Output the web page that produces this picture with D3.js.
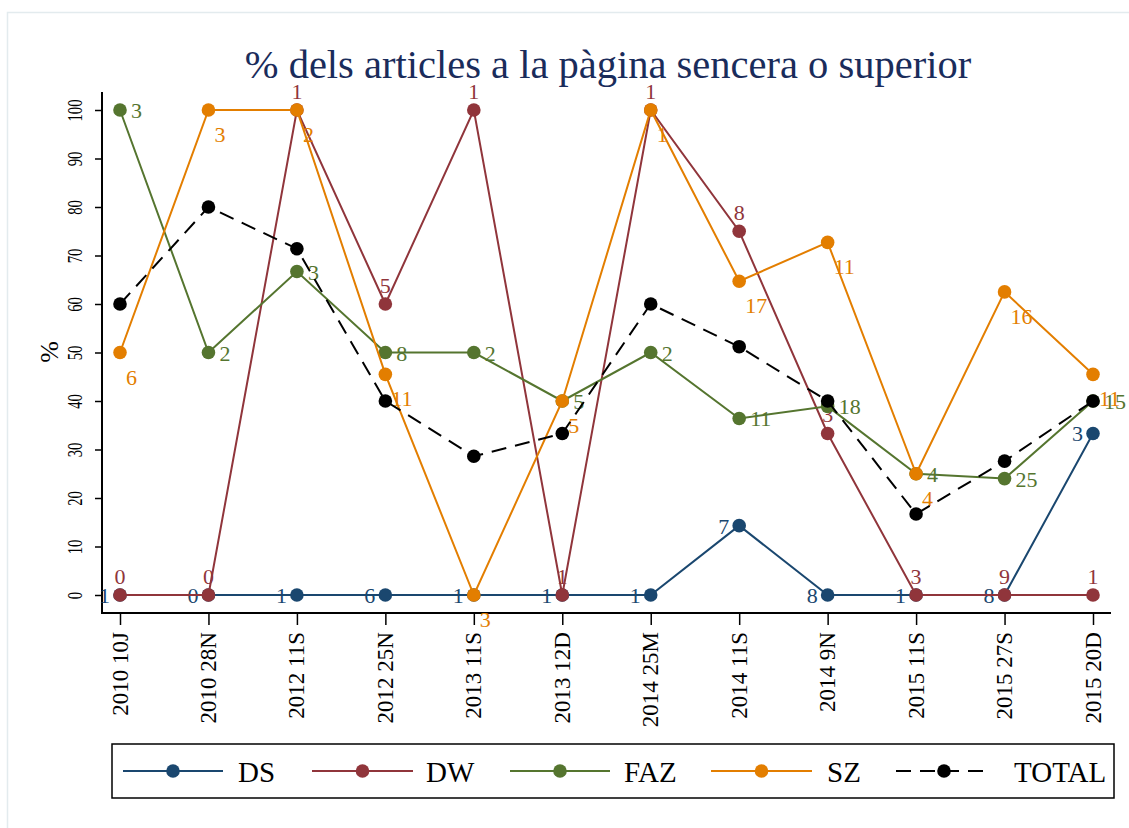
<!DOCTYPE html>
<html>
<head>
<meta charset="utf-8">
<script src="https://cdn.jsdelivr.net/npm/d3@7"></script>
<style>
    body { margin: 0; background: #fff; }
    svg { display: block; font-family: "Liberation Serif", "Times New Roman", serif; }
</style>
</head>
<body>
<div id="chart"></div>
<script>
// dates of the sampled days
var dates = ["2010 10J", "2010 28N", "2012 11S", "2012 25N", "2013 11S", "2013 12D",
    "2014 25M", "2014 11S", "2014 9N", "2015 11S", "2015 27S", "2015 20D"];

// % of articles per paper, plus the number of articles (marker labels)
var dsValues = [0, 0, 0, 0, 0, 0, 0, 14.3, 0, 0, 0, 33.3];
var dsCounts = ["1", "0", "1", "6", "1", "1", "1", "7", "8", "1", "8", "3"];

var dwValues = [0, 0, 100, 60, 100, 0, 100, 75, 33.3, 0, 0, 0];
var dwCounts = ["0", "0", "1", "5", "1", "1", "1", "8", "3", "3", "9", "1"];

var fazValues = [100, 50, 66.7, 50, 50, 40, 50, 36.4, 38.9, 25, 24, 40];
var fazCounts = ["3", "2", "3", "8", "2", "5", "2", "11", "18", "4", "25", "15"];

var szValues = [50, 100, 100, 45.5, 0, 40, 100, 64.7, 72.7, 25, 62.5, 45.5];
var szCounts = ["6", "3", "2", "11", "3", "5", "1", "17", "11", "4", "16", "11"];

var totalValues = [60, 80, 71.4, 40, 28.6, 33.3, 60, 51.2, 40, 16.7, 27.6, 40];

var yTicks = [0, 10, 20, 30, 40, 50, 60, 70, 80, 90, 100];

var series = [
    {name: "DS", values: dsValues, counts: dsCounts, color: "#1a476f", pos: "left"},
    {name: "DW", values: dwValues, counts: dwCounts, color: "#90353b", pos: "top"},
    {name: "FAZ", values: fazValues, counts: fazCounts, color: "#55752f", pos: "right"},
    {name: "SZ", values: szValues, counts: szCounts, color: "#e37e00", pos: "below"},
    {name: "TOTAL", values: totalValues, counts: null, color: "#000000", pos: null, dash: "15,9"}
];

var W = 1129, H = 828;
var plot = {left: 102, right: 1111, top: 92, bottom: 613};

var svg = d3.select("#chart").append("svg")
    .attr("width", W)
    .attr("height", H);

// faint outer frame of the graph region
svg.append("path")
    .attr("d", "M7.5," + H + "V12.5H" + W)
    .attr("fill", "none")
    .attr("stroke", "#e3ebee")
    .attr("stroke-width", 1.5);

var x = d3.scalePoint()
    .domain(dates)
    .range([120, 1093]);

var y = d3.scaleLinear()
    .domain([0, 100])
    .range([595, 110]);

// title
svg.append("text")
    .attr("x", 608)
    .attr("y", 78)
    .attr("text-anchor", "middle")
    .attr("font-size", 40.5)
    .attr("fill", "#1a2c5b")
    .text("% dels articles a la pàgina sencera o superior");

// y axis
var yAxis = d3.axisLeft(y)
    .tickValues(yTicks)
    .tickSize(7)
    .tickSizeOuter(0);

var gy = svg.append("g")
    .attr("transform", "translate(" + plot.left + ",0)")
    .call(yAxis);
gy.select(".domain").remove();
gy.selectAll(".tick line").attr("stroke", "#000").attr("stroke-width", 1.5);
gy.selectAll(".tick text")
    .attr("x", null).attr("dy", null)
    .attr("text-anchor", "middle")
    .attr("font-family", "Liberation Serif")
    .attr("font-size", 21)
    .attr("fill", "#000")
    .attr("transform", "translate(-20,0) rotate(-90) scale(0.7,1)");

// x axis
var xAxis = d3.axisBottom(x)
    .tickSize(12)
    .tickSizeOuter(0);

var gx = svg.append("g")
    .attr("transform", "translate(0," + plot.bottom + ")")
    .call(xAxis);
gx.select(".domain").remove();
gx.selectAll(".tick line").attr("stroke", "#000").attr("stroke-width", 1.5);
gx.selectAll(".tick text")
    .attr("y", null).attr("dy", null)
    .attr("text-anchor", "end")
    .attr("font-family", "Liberation Serif")
    .attr("font-size", 23)
    .attr("fill", "#000")
    .attr("transform", "translate(7,19) rotate(-90)");

// axis lines
svg.append("path")
    .attr("d", "M" + plot.left + "," + plot.top + "V" + plot.bottom + "H" + plot.right)
    .attr("fill", "none")
    .attr("stroke", "#000")
    .attr("stroke-width", 2);

// y title
svg.append("text")
    .attr("transform", "translate(58,352) rotate(-90)")
    .attr("text-anchor", "middle")
    .attr("font-size", 26)
    .text("%");

var line = d3.line()
    .x(function (d, i) { return x(dates[i]); })
    .y(function (d) { return y(d); });

// offsets of the count labels around each marker
function labelX(pos, px) {
    if (pos === "left") return px - 10;
    if (pos === "right") return px + 11;
    if (pos === "below") return px + 6;
    return px;
}
function labelY(pos, py) {
    if (pos === "top") return py - 11;
    if (pos === "below") return py + 32;
    return py + 8;
}
function labelAnchor(pos) {
    if (pos === "left") return "end";
    if (pos === "top") return "middle";
    return "start";
}

series.forEach(function (s) {
    var g = svg.append("g").attr("class", "series");

    g.append("path")
        .attr("d", line(s.values))
        .attr("fill", "none")
        .attr("stroke", s.color)
        .attr("stroke-width", 2)
        .attr("stroke-dasharray", s.dash || null);

    g.selectAll("circle")
        .data(s.values)
        .enter()
        .append("circle")
        .attr("cx", function (d, i) { return x(dates[i]); })
        .attr("cy", function (d) { return y(d); })
        .attr("r", 6.8)
        .attr("fill", s.color);

    if (s.counts) {
        g.selectAll("text")
            .data(s.values)
            .enter()
            .append("text")
            .attr("x", function (d, i) { return labelX(s.pos, x(dates[i])); })
            .attr("y", function (d) { return labelY(s.pos, y(d)); })
            .attr("text-anchor", labelAnchor(s.pos))
            .attr("font-size", 22)
            .attr("fill", s.color)
            .text(function (d, i) { return s.counts[i]; });
    }
});

// legend
var legendItems = [
    {name: "DS", x0: 123, x1: 223, tx: 238},
    {name: "DW", x0: 312, x1: 413, tx: 426},
    {name: "FAZ", x0: 510, x1: 610, tx: 624},
    {name: "SZ", x0: 711, x1: 812, tx: 827},
    {name: "TOTAL", x0: 896, x1: 992, tx: 1014}
];

var legend = svg.append("g").attr("class", "legend");
legend.append("rect")
    .attr("x", 112)
    .attr("y", 744)
    .attr("width", 1002)
    .attr("height", 54)
    .attr("fill", "#fff")
    .attr("stroke", "#000")
    .attr("stroke-width", 1.5);

legendItems.forEach(function (it, i) {
    var s = series[i];
    legend.append("line")
        .attr("x1", it.x0).attr("x2", it.x1)
        .attr("y1", 771).attr("y2", 771)
        .attr("stroke", s.color)
        .attr("stroke-width", 2)
        .attr("stroke-dasharray", s.dash || null);
    legend.append("circle")
        .attr("cx", (it.x0 + it.x1) / 2)
        .attr("cy", 771)
        .attr("r", 6.8)
        .attr("fill", s.color);
    legend.append("text")
        .attr("x", it.tx)
        .attr("y", 782)
        .attr("font-size", 29)
        .text(it.name);
});
</script>
</body>
</html>
